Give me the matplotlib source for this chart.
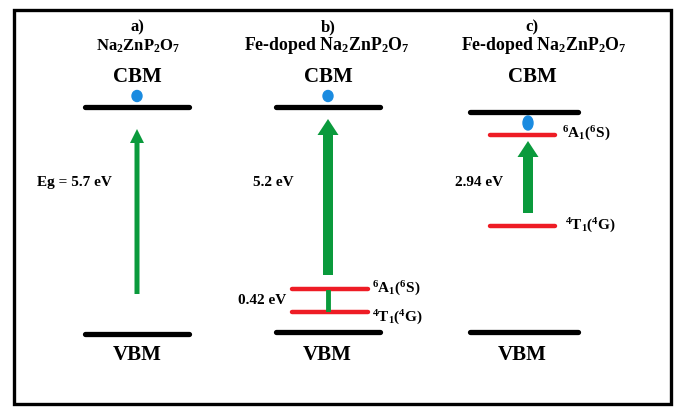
import matplotlib
matplotlib.use("Agg")
import matplotlib.pyplot as plt
from matplotlib.patches import FancyArrow, Ellipse, Rectangle

plt.rcParams['mathtext.fontset'] = 'custom'
plt.rcParams['mathtext.rm'] = 'Liberation Serif:bold'
plt.rcParams['mathtext.bf'] = 'Liberation Serif:bold'
plt.rcParams['mathtext.it'] = 'Liberation Serif:bold'

# ---- data ----
panel_tags = ['a)', 'b)', 'c)']
panel_titles = [r'$\mathrm{Na_2ZnP_2O_7}$',
                r'$\mathrm{Fe}$-$\mathrm{doped\ Na_2ZnP_2O_7}$',
                r'$\mathrm{Fe}$-$\mathrm{doped\ Na_2ZnP_2O_7}$']
gap_labels = ['Eg = 5.7 eV', '5.2 eV', '2.94 eV']
level_names = [r'$^6$A$_1$($^6$S)', r'$^4$T$_1$($^4$G)']
split_label = '0.42 eV'

# diagram geometry (pixel-like coordinates, y downward)
panel_x = [137, 328, 524]
cbm_y = [108, 108, 113]
vbm_y = [335, 333, 333]
half_len = [52, 52, 54]
# Fe levels: panel b and c  (upper 6A1, lower 4T1)
fe_b = [290, 313]
fe_c = [136, 227]

fig = plt.figure(figsize=(6.76, 4.10), dpi=100)
ax = fig.add_axes([0, 0, 1, 1])
ax.set_xlim(0, 676)
ax.set_ylim(410, 0)
ax.axis('off')

ax.add_patch(Rectangle((14, 11), 657, 394, fill=False, lw=2.4, ec='black'))

black = '#000000'
red = '#ee1c25'
green = '#0a9a3c'
blue = '#1a8be0'
fs = dict(family='Liberation Serif', weight='bold', color='black')

for i in range(3):
    x = panel_x[i]
    ax.plot([x - half_len[i], x + half_len[i]], [cbm_y[i]] * 2, color=black, lw=3.8,
            solid_capstyle='round')
    ax.plot([x - half_len[i], x + half_len[i]], [vbm_y[i]] * 2, color=black, lw=3.8,
            solid_capstyle='round')

cx = [137, 328, 532]
for i in range(3):
    ax.text(cx[i], 27, panel_tags[i], ha='center', va='center', fontsize=12, **fs)
    ax.text(cx[i], 77, 'CBM', ha='center', va='center', fontsize=15, **fs)
ax.text(138, 46, panel_titles[0], ha='center', va='center', fontsize=12, **fs)
ax.text(327, 46, panel_titles[1], ha='center', va='center', fontsize=12.8, **fs)
ax.text(544, 46, panel_titles[2], ha='center', va='center', fontsize=12.8, **fs)
vx = [137, 327, 522]
for i in range(3):
    ax.text(vx[i], 355, 'VBM', ha='center', va='center', fontsize=15, **fs)

# electrons
ax.add_patch(Ellipse((137, 97), 10, 11, color=blue))
ax.add_patch(Ellipse((328, 97), 10, 11, color=blue))
ax.add_patch(Ellipse((528, 124), 10, 14, color=blue))

# Fe levels
for y in fe_b:
    ax.plot([292, 368], [y, y], color=red, lw=3.2, solid_capstyle='round')
for y in fe_c:
    ax.plot([490, 555], [y, y], color=red, lw=3.2, solid_capstyle='round')

# arrows
ax.add_patch(FancyArrow(137, 295, 0, -165, width=5, head_width=14, head_length=14,
                        length_includes_head=True, color=green, lw=0))
ax.add_patch(FancyArrow(328, 276, 0, -156, width=10, head_width=21, head_length=16,
                        length_includes_head=True, color=green, lw=0))
ax.add_patch(FancyArrow(528, 214, 0, -72, width=10, head_width=21, head_length=16,
                        length_includes_head=True, color=green, lw=0))
ax.plot([328, 328], [293, 310], color=green, lw=3.5)

# labels
ax.text(37, 183, gap_labels[0], ha='left', va='center', fontsize=11, **fs)
ax.text(253, 183, gap_labels[1], ha='left', va='center', fontsize=11, **fs)
ax.text(455, 183, gap_labels[2], ha='left', va='center', fontsize=11, **fs)
ax.text(238, 301, split_label, ha='left', va='center', fontsize=11, **fs)
ax.text(372, 289, level_names[0], ha='left', va='center', fontsize=11, **fs)
ax.text(372, 318, level_names[1], ha='left', va='center', fontsize=11, **fs)
ax.text(562, 134, level_names[0], ha='left', va='center', fontsize=11, **fs)
ax.text(565, 226, level_names[1], ha='left', va='center', fontsize=11, **fs)

fig.savefig('out.png', dpi=100)
